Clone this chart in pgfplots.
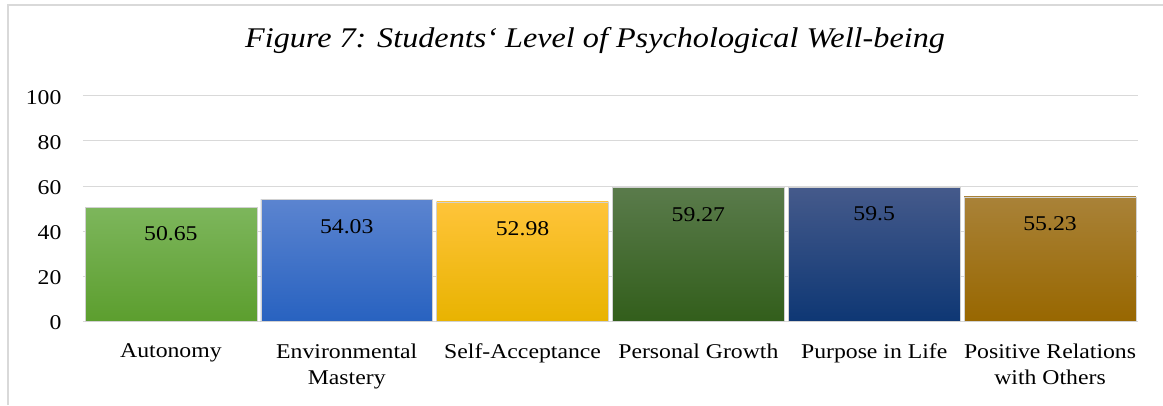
\documentclass[border=0pt]{standalone}
\usepackage{fontspec}
\setmainfont{Liberation Serif}[FakeStretch=1.13]
\usepackage{pgfplots}
\pgfplotsset{compat=1.18}
\definecolor{gridc}{HTML}{D9D9D9}
\definecolor{aT}{HTML}{7DB65C}\definecolor{aB}{HTML}{5C9E2E}
\definecolor{bT}{HTML}{5B84D0}\definecolor{bB}{HTML}{2862C0}
\definecolor{cT}{HTML}{FFC43A}\definecolor{cB}{HTML}{E8B300}
\definecolor{dT}{HTML}{5A7B4B}\definecolor{dB}{HTML}{325E1B}
\definecolor{eT}{HTML}{455A8B}\definecolor{eB}{HTML}{0E3774}
\definecolor{fT}{HTML}{A98238}\definecolor{fB}{HTML}{986700}
\begin{document}
\begin{tikzpicture}[x=1pt,y=1pt]
\path[use as bounding box] (0,0) rectangle (1163,405);
\draw[gridc, line width=2pt] (8,0) -- (8,400) -- (1163,400);
\node[font=\fontsize{28.5}{32}\selectfont\itshape] at (595,364) {Figure 7: Students‘ Level of Psychological Well-being};
\begin{axis}[
  at={(83pt,83.5pt)}, anchor=south west,
  scale only axis, width=1055pt, height=225.8pt,
  xmin=-0.5, xmax=5.5, ymin=0, ymax=100,
  ytick={0,20,...,100},
  xtick={0,1,2,3,4,5},
  xticklabels={Autonomy, {Environmental\\Mastery}, Self-Acceptance, Personal Growth, Purpose in Life, {Positive Relations\\with Others}},
  xticklabel style={align=center, font=\fontsize{21}{26}\selectfont, yshift=-19pt},
  yticklabel style={font=\fontsize{21}{24}\selectfont, xshift=-18pt, yshift=-1.5pt},
  /pgf/number format/assume math mode=true,
  major tick length=0pt,
  ymajorgrids, grid style={gridc, line width=0.8pt},
  axis line style={draw=none},
  bar width=0.977,
]
\addplot[ybar, bar shift=0pt, top color=aT, bottom color=aB, draw=black!18] coordinates {(0,50.65)};
\addplot[ybar, bar shift=0pt, top color=bT, bottom color=bB, draw=black!18] coordinates {(1,54.03)};
\addplot[ybar, bar shift=0pt, top color=cT, bottom color=cB, draw=black!18] coordinates {(2,52.98)};
\addplot[ybar, bar shift=0pt, top color=dT, bottom color=dB, draw=black!18] coordinates {(3,59.27)};
\addplot[ybar, bar shift=0pt, top color=eT, bottom color=eB, draw=black!18] coordinates {(4,59.5)};
\addplot[ybar, bar shift=0pt, top color=fT, bottom color=fB, draw=black!18] coordinates {(5,55.23)};
\addplot[draw=none, mark=none, nodes near coords,
  every node near coord/.append style={font=\fontsize{21}{24}\selectfont, text=black, anchor=center, yshift=-27pt}]
  coordinates {(0,50.65) (1,54.03) (2,52.98) (3,59.27) (4,59.5) (5,55.23)};
\end{axis}
\end{tikzpicture}
\end{document}
